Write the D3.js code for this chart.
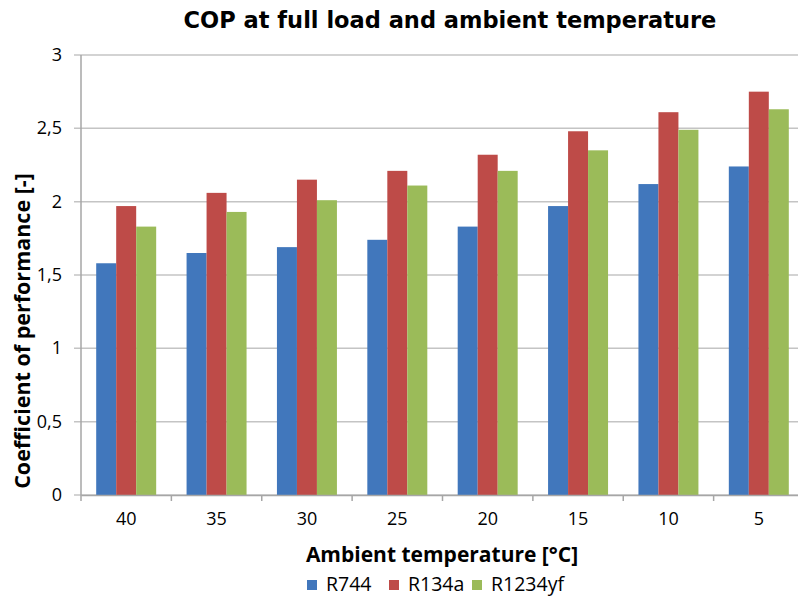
<!DOCTYPE html>
<html>
<head>
<meta charset="utf-8">
<script src="https://cdn.jsdelivr.net/npm/d3@7"></script>
<style>
  body { margin: 0; background: #fff; }
  text { font-family: "Open Sans", sans-serif; fill: #000; }
</style>
</head>
<body>
<svg id="chart" width="798" height="596"></svg>
<script>
const temps = ["40", "35", "30", "25", "20", "15", "10", "5"];
const seriesNames = ["R744", "R134a", "R1234yf"];
const r744 = [1.58, 1.65, 1.69, 1.74, 1.83, 1.97, 2.12, 2.24];
const r134a = [1.97, 2.06, 2.15, 2.21, 2.32, 2.48, 2.61, 2.75];
const r1234yf = [1.83, 1.93, 2.01, 2.11, 2.21, 2.35, 2.49, 2.63];
const yTicks = [0, 0.5, 1, 1.5, 2, 2.5, 3];
const colors = ["#4177bc", "#be4b48", "#9bbb59"];

const allSeries = [r744, r134a, r1234yf];
const svg = d3.select("#chart");

const plotLeft = 81, plotRight = 804, plotTop = 55, plotBottom = 495;

const x = d3.scaleBand().domain(temps).range([plotLeft, plotRight]).paddingInner(0).paddingOuter(0);
const inner = d3.scaleBand().domain(seriesNames).range([0, x.bandwidth()]).paddingInner(0).paddingOuter(0.76);
const y = d3.scaleLinear().domain([0, 3]).range([plotBottom, plotTop]);

// gridlines
svg.append("g")
  .selectAll("line")
  .data(yTicks)
  .join("line")
  .attr("x1", plotLeft - 7)
  .attr("x2", plotRight)
  .attr("y1", d => y(d))
  .attr("y2", d => y(d))
  .attr("stroke", "#c4c4c4")
  .attr("stroke-width", 1.5);

// y labels
svg.append("g")
  .selectAll("text")
  .data(yTicks)
  .join("text")
  .attr("x", plotLeft - 19)
  .attr("y", d => y(d) + 6)
  .attr("text-anchor", "end")
  .style("font-size", "18px")
  .text(d => String(d).replace(".", ","));

// bars
const groups = svg.append("g")
  .selectAll("g")
  .data(temps)
  .join("g")
  .attr("transform", d => `translate(${x(d)},0)`);

groups.selectAll("rect")
  .data((d, i) => seriesNames.map((s, j) => ({ s, v: allSeries[j][i], c: colors[j] })))
  .join("rect")
  .attr("x", d => inner(d.s))
  .attr("width", inner.bandwidth())
  .attr("y", d => y(d.v))
  .attr("height", d => y(0) - y(d.v))
  .attr("fill", d => d.c);

// axes lines
svg.append("line")
  .attr("x1", plotLeft).attr("x2", plotLeft)
  .attr("y1", plotTop).attr("y2", plotBottom)
  .attr("stroke", "#a6a6a6").attr("stroke-width", 1.5);

const xAxis = d3.axisBottom(x).tickSize(0).tickPadding(20);
const gx = svg.append("g")
  .attr("transform", `translate(0,${plotBottom})`)
  .call(xAxis);
gx.select(".domain").attr("stroke", "#a6a6a6").attr("stroke-width", 1.5);
gx.selectAll("text")
  .style("font-size", "18px")
  .style("font-family", "'Open Sans', sans-serif")
  .attr("fill", "#000")
  .attr("dy", "0.55em");

// category boundary ticks
svg.append("g")
  .selectAll("line")
  .data(temps)
  .join("line")
  .attr("x1", d => x(d))
  .attr("x2", d => x(d))
  .attr("y1", plotBottom)
  .attr("y2", plotBottom + 6)
  .attr("stroke", "#a6a6a6")
  .attr("stroke-width", 1.5);

// titles
svg.append("text")
  .attr("x", 450)
  .attr("y", 28)
  .attr("text-anchor", "middle")
  .style("font-family", "'DejaVu Sans', sans-serif")
  .style("font-size", "22.5px")
  .style("font-weight", "bold")
  .text("COP at full load and ambient temperature");

svg.append("text")
  .attr("transform", "translate(30,331) rotate(-90)")
  .attr("text-anchor", "middle")
  .style("font-size", "21.5px")
  .style("font-weight", "bold")
  .text("Coefficient of performance [-]");

svg.append("text")
  .attr("x", 442)
  .attr("y", 562)
  .attr("text-anchor", "middle")
  .style("font-size", "21px")
  .style("font-weight", "bold")
  .text("Ambient temperature [°C]");

// legend
const legendX = [307, 389, 472];
const legend = svg.append("g")
  .selectAll("g")
  .data(seriesNames)
  .join("g")
  .attr("transform", (d, i) => `translate(${legendX[i]},580)`);
legend.append("rect")
  .attr("width", 10).attr("height", 10)
  .attr("fill", (d, i) => colors[i]);
legend.append("text")
  .attr("x", 19)
  .attr("y", 11)
  .style("font-size", "19.5px")
  .text(d => d);
</script>
</body>
</html>
